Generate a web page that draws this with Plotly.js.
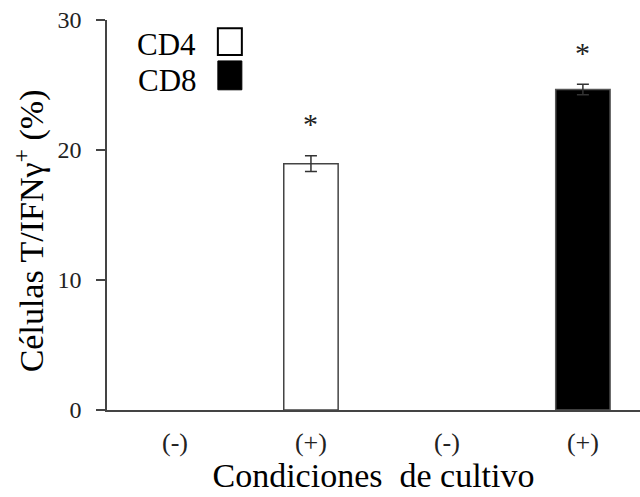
<!DOCTYPE html>
<html>
<head>
<meta charset="utf-8">
<script src="https://cdn.plot.ly/plotly-3.0.1.min.js"></script>
</head>
<body style="margin:0">
<div id="chart"></div>
<script>
// Data
var tickLabels = ['(-)', '(+)', '(-)', '(+)'];
var cd4X = [0, 1];
var cd4Values = [0, 18.95];
var cd4Errors = [0, 0.6];
var cd8X = [2, 3];
var cd8Values = [0, 24.65];
var cd8Errors = [0, 0.4];
var seriesNames = ['CD4', 'CD8'];
var significant = [1, 3];

var FONT = 'Liberation Serif';

// Only the non-zero bars are drawn visibly (zero bars have no height)
function nz(xs, vals) { return xs.filter(function (x, i) { return vals[i] > 0; }); }
function nzv(vals) { return vals.filter(function (v) { return v > 0; }); }
function nze(vals, errs) { return errs.filter(function (e, i) { return vals[i] > 0; }); }

var traces = [
  {
    type: 'bar', name: seriesNames[0], x: nz(cd4X, cd4Values), y: nzv(cd4Values), width: 0.4,
    marker: {color: '#ffffff', line: {color: '#444', width: 1.5}},
    error_y: {type: 'data', array: nze(cd4Values, cd4Errors), visible: true, color: '#333', thickness: 1.5, width: 6}
  },
  {
    type: 'bar', name: seriesNames[1], x: nz(cd8X, cd8Values), y: nzv(cd8Values), width: 0.4,
    marker: {color: '#000000', line: {color: '#555', width: 1.5}},
    error_y: {type: 'data', array: nze(cd8Values, cd8Errors), visible: true, color: '#333', thickness: 1.5, width: 6}
  }
];

var allX = cd4X.concat(cd8X);
var allY = cd4Values.concat(cd8Values);
var allE = cd4Errors.concat(cd8Errors);
var annotations = [];
significant.forEach(function (xi) {
  var i = allX.indexOf(xi);
  annotations.push({
    x: xi, y: allY[i] + allE[i], xref: 'x', yref: 'y', yshift: 32,
    text: '*', showarrow: false, font: {family: FONT, size: 30, color: '#222'}
  });
});

// Legend (drawn as text + boxes)
annotations.push({xref: 'paper', yref: 'paper', x: 0.171, y: 0.936, xanchor: 'right', yanchor: 'middle',
  text: seriesNames[0], showarrow: false, font: {family: FONT, size: 31, color: '#000'}});
annotations.push({xref: 'paper', yref: 'paper', x: 0.173, y: 0.846, xanchor: 'right', yanchor: 'middle',
  text: seriesNames[1], showarrow: false, font: {family: FONT, size: 31, color: '#000'}});
// Y title
annotations.push({xref: 'paper', yref: 'paper', x: -0.145, y: 0.46, xanchor: 'center', yanchor: 'middle',
  textangle: -90, text: 'Células T/IFNγ<sup>+</sup> (%)', showarrow: false,
  font: {family: FONT, size: 34, color: '#000'}});

var shapes = [
  {type: 'rect', xref: 'paper', yref: 'paper', x0: 0.208, x1: 0.253, y0: 0.910, y1: 0.979,
   fillcolor: '#fff', line: {color: '#000', width: 2}},
  {type: 'rect', xref: 'paper', yref: 'paper', x0: 0.208, x1: 0.253, y0: 0.821, y1: 0.895,
   fillcolor: '#000', line: {color: '#000', width: 1}}
];

var layout = {
  width: 640, height: 497,
  margin: {l: 107, r: 0, t: 20, b: 87},
  paper_bgcolor: '#fff', plot_bgcolor: '#fff',
  showlegend: false,
  barmode: 'overlay',
  xaxis: {
    range: [-0.5, 3.42], tickvals: [0, 1, 2, 3], ticktext: tickLabels,
    showline: true, linecolor: '#444', linewidth: 1.5, ticks: '', showgrid: false, zeroline: false,
    tickfont: {family: FONT, size: 26, color: '#222'}, ticklabelstandoff: 8,
    title: {text: 'Condiciones  de cultivo', font: {family: FONT, size: 34, color: '#000'}, standoff: 4}
  },
  yaxis: {
    range: [0, 30], tickvals: [0, 10, 20, 30],
    showline: true, linecolor: '#444', linewidth: 1.5, ticks: 'outside', ticklen: 9, tickwidth: 1.5, tickcolor: '#444',
    showgrid: false, zeroline: false, ticklabelstandoff: 10,
    tickfont: {family: FONT, size: 24, color: '#222'}
  },
  annotations: annotations,
  shapes: shapes
};

Plotly.newPlot('chart', traces, layout, {displayModeBar: false});
</script>
</body>
</html>
